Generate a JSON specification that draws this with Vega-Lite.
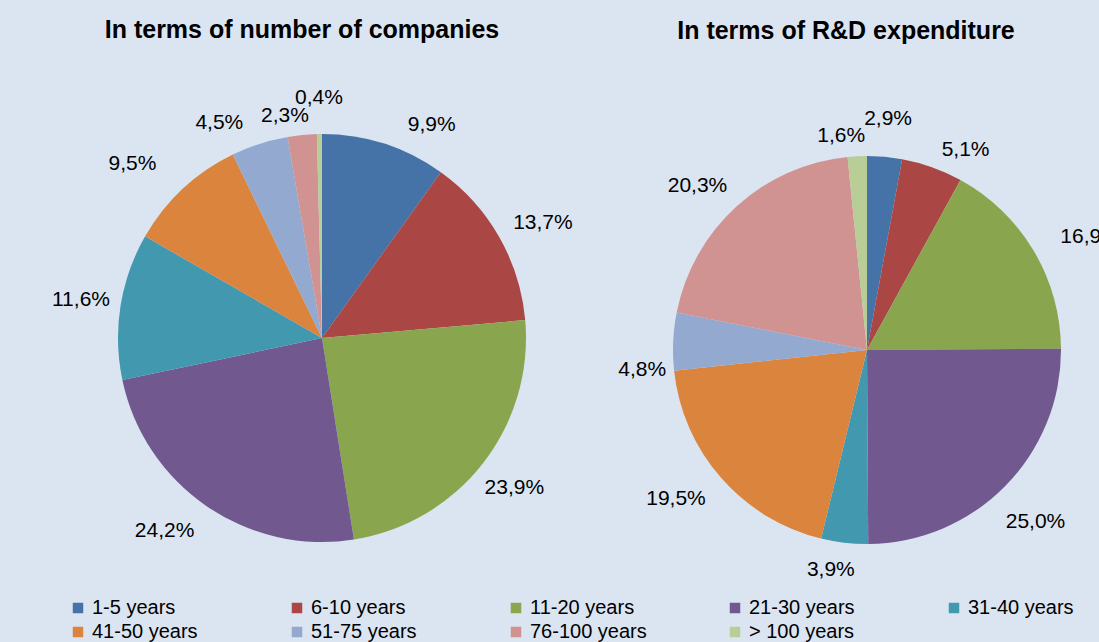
{
  "$schema": "https://vega.github.io/schema/vega-lite/v6.json",
  "background": "#dbe5f1",
  "padding": {"left": 0, "top": 18, "right": 0, "bottom": 0},
  "spacing": 0,
  "bounds": "flush",
  "config": {
    "view": {"stroke": null},
    "font": "Liberation Sans",
    "text": {"fontSize": 21, "font": "Liberation Sans", "color": "#000000"},
    "title": {"fontSize": 25, "fontWeight": "bold", "color": "#000000", "font": "Liberation Sans", "anchor": "middle", "frame": "group"}
  },
  "resolve": {"scale": {"color": "shared"}, "legend": {"color": "shared"}},
  "datasets": {
    "shares": [
      {"panel": "companies", "order": 1, "group": "1-5 years", "value": 9.9, "label": "9,9%"},
      {"panel": "companies", "order": 2, "group": "6-10 years", "value": 13.7, "label": "13,7%"},
      {"panel": "companies", "order": 3, "group": "11-20 years", "value": 23.9, "label": "23,9%"},
      {"panel": "companies", "order": 4, "group": "21-30 years", "value": 24.2, "label": "24,2%"},
      {"panel": "companies", "order": 5, "group": "31-40 years", "value": 11.6, "label": "11,6%"},
      {"panel": "companies", "order": 6, "group": "41-50 years", "value": 9.5, "label": "9,5%"},
      {"panel": "companies", "order": 7, "group": "51-75 years", "value": 4.5, "label": "4,5%"},
      {"panel": "companies", "order": 8, "group": "76-100 years", "value": 2.3, "label": "2,3%"},
      {"panel": "companies", "order": 9, "group": "> 100 years", "value": 0.4, "label": "0,4%"},
      {"panel": "rd", "order": 1, "group": "1-5 years", "value": 2.9, "label": "2,9%"},
      {"panel": "rd", "order": 2, "group": "6-10 years", "value": 5.1, "label": "5,1%"},
      {"panel": "rd", "order": 3, "group": "11-20 years", "value": 16.9, "label": "16,9%"},
      {"panel": "rd", "order": 4, "group": "21-30 years", "value": 25.0, "label": "25,0%"},
      {"panel": "rd", "order": 5, "group": "31-40 years", "value": 3.9, "label": "3,9%"},
      {"panel": "rd", "order": 6, "group": "41-50 years", "value": 19.5, "label": "19,5%"},
      {"panel": "rd", "order": 7, "group": "51-75 years", "value": 4.8, "label": "4,8%"},
      {"panel": "rd", "order": 8, "group": "76-100 years", "value": 20.3, "label": "20,3%"},
      {"panel": "rd", "order": 9, "group": "> 100 years", "value": 1.6, "label": "1,6%"}
    ]
  },
  "hconcat": [
    {
      "width": 644,
      "height": 474,
      "title": {"text": "In terms of number of companies", "dx": -20, "offset": 32},
      "data": {"name": "shares"},
      "transform": [{"filter": "datum.panel == 'companies'"}],
      "encoding": {
        "theta": {"field": "value", "type": "quantitative", "stack": true},
        "order": {"field": "order", "type": "quantitative"},
        "detail": {"field": "group", "type": "nominal"}
      },
      "layer": [
        {
          "mark": {"type": "arc", "outerRadius": 204},
          "encoding": {
            "color": {
              "field": "group", "type": "nominal",
              "scale": {
                "domain": ["1-5 years", "6-10 years", "11-20 years", "21-30 years", "31-40 years", "41-50 years", "51-75 years", "76-100 years", "> 100 years"],
                "range": ["#4572a7", "#aa4643", "#89a54e", "#71588f", "#4198af", "#db843d", "#93a9cf", "#d19392", "#b9cd96"]
              },
              "legend": {
                "orient": "none", "legendX": 68, "legendY": 497, "columns": 5, "direction": "horizontal",
                "title": null, "symbolType": "square", "symbolSize": 110, "symbolStrokeWidth": 0,
                "labelFontSize": 20, "labelFont": "Liberation Sans", "labelColor": "#000000",
                "labelOffset": 4, "columnPadding": 78, "rowPadding": 4, "gridAlign": "all", "padding": 0, "labelLimit": 300
              }
            }
          }
        },
        {
          "mark": {"type": "text", "radius": 244},
          "encoding": {"text": {"condition": {"test": "indexof(['11-20 years','31-40 years'], datum.group) >= 0", "field": "label"}, "value": ""}}
        },
        {
          "mark": {"type": "text", "radius": 244, "dx": 35, "dy": 19},
          "encoding": {"text": {"condition": {"test": "datum.group == '1-5 years'", "field": "label"}, "value": ""}}
        },
        {
          "mark": {"type": "text", "radius": 244, "dx": 9, "dy": 6},
          "encoding": {"text": {"condition": {"test": "datum.group == '6-10 years'", "field": "label"}, "value": ""}}
        },
        {
          "mark": {"type": "text", "radius": 244, "dx": -19, "dy": -8},
          "encoding": {"text": {"condition": {"test": "datum.group == '21-30 years'", "field": "label"}, "value": ""}}
        },
        {
          "mark": {"type": "text", "radius": 244, "dx": -23, "dy": 4},
          "encoding": {"text": {"condition": {"test": "datum.group == '41-50 years'", "field": "label"}, "value": ""}}
        },
        {
          "mark": {"type": "text", "radius": 244, "dx": -28, "dy": 17},
          "encoding": {"text": {"condition": {"test": "datum.group == '51-75 years'", "field": "label"}, "value": ""}}
        },
        {
          "mark": {"type": "text", "radius": 226, "dx": -15, "dy": 3},
          "encoding": {"text": {"condition": {"test": "datum.group == '76-100 years'", "field": "label"}, "value": ""}}
        },
        {
          "mark": {"type": "text", "radius": 240},
          "encoding": {"text": {"condition": {"test": "datum.group == '> 100 years'", "field": "label"}, "value": ""}}
        }
      ]
    },
    {
      "width": 446,
      "height": 498,
      "title": {"text": "In terms of R&D expenditure", "dx": -21, "offset": 49},
      "data": {"name": "shares"},
      "transform": [{"filter": "datum.panel == 'rd'"}],
      "encoding": {
        "theta": {"field": "value", "type": "quantitative", "stack": true},
        "order": {"field": "order", "type": "quantitative"},
        "detail": {"field": "group", "type": "nominal"}
      },
      "layer": [
        {
          "mark": {"type": "arc", "outerRadius": 194},
          "encoding": {"color": {"field": "group", "type": "nominal"}}
        },
        {
          "mark": {"type": "text", "radius": 232},
          "encoding": {"text": {"condition": {"test": "datum.group == '1-5 years'", "field": "label"}, "value": ""}}
        },
        {
          "mark": {"type": "text", "radius": 234, "dx": 20, "dy": 20},
          "encoding": {"text": {"condition": {"test": "datum.group == '6-10 years'", "field": "label"}, "value": ""}}
        },
        {
          "mark": {"type": "text", "radius": 234, "dx": 22, "dy": 7},
          "encoding": {"text": {"condition": {"test": "datum.group == '11-20 years'", "field": "label"}, "value": ""}}
        },
        {
          "mark": {"type": "text", "radius": 234, "dx": 2, "dy": 8},
          "encoding": {"text": {"condition": {"test": "datum.group == '21-30 years'", "field": "label"}, "value": ""}}
        },
        {
          "mark": {"type": "text", "radius": 234, "dx": -9, "dy": -12},
          "encoding": {"text": {"condition": {"test": "datum.group == '31-40 years'", "field": "label"}, "value": ""}}
        },
        {
          "mark": {"type": "text", "radius": 234, "dx": -15, "dy": -5},
          "encoding": {"text": {"condition": {"test": "datum.group == '41-50 years'", "field": "label"}, "value": ""}}
        },
        {
          "mark": {"type": "text", "radius": 234, "dx": 9, "dy": 30},
          "encoding": {"text": {"condition": {"test": "datum.group == '51-75 years'", "field": "label"}, "value": ""}}
        },
        {
          "mark": {"type": "text", "radius": 234, "dx": -12, "dy": 9},
          "encoding": {"text": {"condition": {"test": "datum.group == '76-100 years'", "field": "label"}, "value": ""}}
        },
        {
          "mark": {"type": "text", "radius": 214, "dx": -15},
          "encoding": {"text": {"condition": {"test": "datum.group == '> 100 years'", "field": "label"}, "value": ""}}
        }
      ]
    }
  ]
}
